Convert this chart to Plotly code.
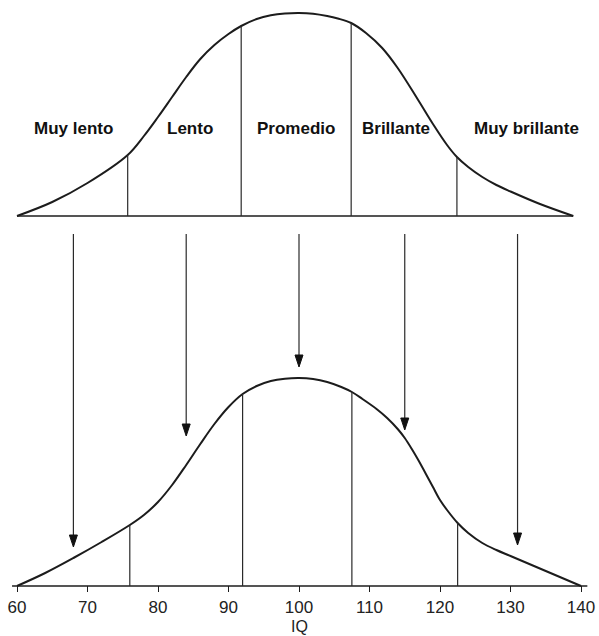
import plotly.graph_objects as go

# ---------------- data ----------------
iq_ticks = [60, 70, 80, 90, 100, 110, 120, 130, 140]

# lower curve: IQ value -> height above its baseline
bottom_iq = [60, 64, 68, 72, 76, 78, 80, 82, 84, 86, 88, 90, 92, 94, 96, 98, 100,
             102, 104, 106, 107.5, 109, 111, 112.5, 114, 115, 116, 117, 118, 119, 120,
             121, 122.5, 124, 126, 128, 130, 135, 140]
bottom_h = [0, 13, 28, 44, 61, 71, 84, 101, 121, 142, 162, 179, 192, 200, 205, 207.3, 208,
            207, 204, 199, 194, 187, 177, 168, 157, 148, 137, 125, 112, 99, 86,
            76, 63, 53, 43, 36, 30, 15, 0]
bottom_bounds = [76, 92, 107.5, 122.5]

# upper curve: IQ value -> height above its own baseline
top_iq = [60, 65, 70, 75.7, 78, 80, 82, 84, 86, 88, 90, 91.8, 94, 96, 98, 100,
          102, 104, 105.5, 107.4, 109.5, 111.8, 114, 116.9, 119, 121, 122.4, 124,
          126, 128, 130, 134, 138.9]
top_h = [0, 14, 33, 61, 80, 99, 119, 139, 157, 171, 182, 190, 197, 200.7, 202.5, 203,
         202.3, 200, 197.5, 193, 183, 168, 148, 116, 92, 71, 59, 49,
         39, 31, 24.5, 12.5, 0]
top_bounds = [75.7, 91.8, 107.4, 122.4]

categories = ["Muy lento", "Lento", "Promedio", "Brillante", "Muy brillante"]
label_iq = [68, 84.5, 99.6, 113.7, 132.2]

arrow_iq = [68, 84, 100, 115, 131]
arrow_tip_h = [39, 150, 219, 156, 41]

# ---------------- layout constants ----------------
W, H = 599, 636
TOP_BASE = 370      # baseline of upper curve (y units = px above lower baseline)
ARROW_TAIL = 352
LABEL_Y = 458
HEAD_LEN = 12
PX_PER_IQ = 7.05
HEAD_HALF = 4 / PX_PER_IQ
INK = "#1c1c1c"
PLOT_BOTTOM = 592   # px of plot-area bottom
SMOOTH = 1.0

fig = go.Figure()

# lower curve
fig.add_trace(go.Scatter(x=bottom_iq, y=bottom_h, mode="lines",
                         line=dict(color=INK, width=2, shape="spline", smoothing=SMOOTH),
                         hoverinfo="skip", showlegend=False))
# lower baseline
fig.add_trace(go.Scatter(x=[59.3, 140.9], y=[0, 0], mode="lines",
                         line=dict(color=INK, width=1.5),
                         hoverinfo="skip", showlegend=False))
# upper curve
fig.add_trace(go.Scatter(x=top_iq, y=[TOP_BASE + h for h in top_h], mode="lines",
                         line=dict(color=INK, width=2, shape="spline", smoothing=SMOOTH),
                         hoverinfo="skip", showlegend=False))
# upper baseline
fig.add_trace(go.Scatter(x=[top_iq[0], top_iq[-1]], y=[TOP_BASE, TOP_BASE], mode="lines",
                         line=dict(color=INK, width=1.5),
                         hoverinfo="skip", showlegend=False))

# boundary lines
bmap = dict(zip(bottom_iq, bottom_h))
tmap = dict(zip(top_iq, top_h))
vx, vy = [], []
for b in bottom_bounds:
    vx += [b, b, None]
    vy += [0, bmap[b], None]
for b in top_bounds:
    vx += [b, b, None]
    vy += [TOP_BASE, TOP_BASE + tmap[b], None]
fig.add_trace(go.Scatter(x=vx, y=vy, mode="lines",
                         line=dict(color="#2a2a2a", width=1.2),
                         hoverinfo="skip", showlegend=False))

# arrows
sx, sy, hx, hy = [], [], [], []
for a, t in zip(arrow_iq, arrow_tip_h):
    sx += [a, a, None]
    sy += [ARROW_TAIL, t + HEAD_LEN - 1, None]
    hx += [a - HEAD_HALF, a + HEAD_HALF, a, a - HEAD_HALF, None]
    hy += [t + HEAD_LEN, t + HEAD_LEN, t, t + HEAD_LEN, None]
fig.add_trace(go.Scatter(x=sx, y=sy, mode="lines",
                         line=dict(color="#2a2a2a", width=1.2),
                         hoverinfo="skip", showlegend=False))
fig.add_trace(go.Scatter(x=hx, y=hy, mode="lines", fill="toself",
                         fillcolor="#111", line=dict(color="#111", width=1),
                         hoverinfo="skip", showlegend=False))

# category labels
for c, lx in zip(categories, label_iq):
    fig.add_annotation(x=lx, y=LABEL_Y, xref="x", yref="y", text=c, showarrow=False,
                       font=dict(family="Liberation Sans", size=17, color="#111", weight="bold"),
                       xanchor="center", yanchor="middle")

# axis title
fig.add_annotation(x=100, xref="x", y=-(626 - PLOT_BOTTOM) / PLOT_BOTTOM, yref="paper",
                   text="IQ", showarrow=False,
                   font=dict(family="Liberation Sans", size=16, color="#222"),
                   xanchor="center", yanchor="middle")

x0 = 60 - 17 / PX_PER_IQ
x1 = x0 + W / PX_PER_IQ
fig.update_xaxes(range=[x0, x1], tickvals=iq_ticks, ticktext=[str(v) for v in iq_ticks],
                 ticks="inside", ticklen=6, tickwidth=1, tickcolor=INK,
                 ticklabelstandoff=3,
                 showgrid=False, zeroline=False, showline=False,
                 tickfont=dict(family="Liberation Sans", size=17, color="#222"))
fig.update_yaxes(range=[-(PLOT_BOTTOM - 586), 586], visible=False,
                 showgrid=False, zeroline=False)
fig.update_layout(width=W, height=H, autosize=False,
                  margin=dict(l=0, r=0, t=0, b=H - PLOT_BOTTOM, pad=0),
                  plot_bgcolor="white", paper_bgcolor="white")

fig.write_html("out.html", config={"displayModeBar": False},
               post_script="document.body.style.margin='0';document.body.style.overflow='hidden';")
